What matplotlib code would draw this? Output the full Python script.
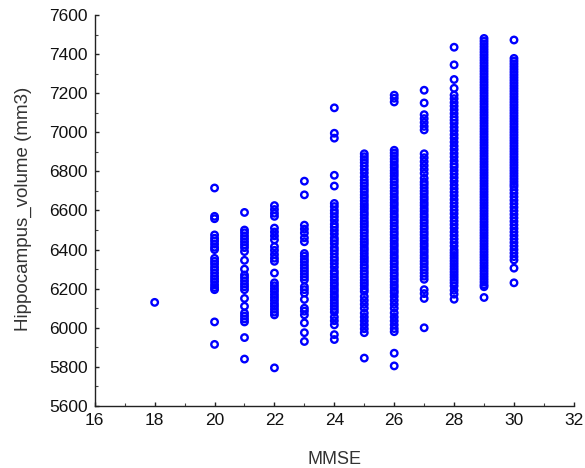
import numpy as np
import matplotlib.pyplot as plt
from matplotlib.ticker import MultipleLocator

# hippocampus volume (mm3) per MMSE score
vol_18 = [6130]
vol_20 = [6715, 6570, 6558, 6475, 6458, 6444, 6428, 6412, 6400, 6355, 6340, 6326,
          6310, 6296, 6280, 6264, 6250, 6236, 6220, 6206, 6195, 6030, 5915]
vol_21 = [6590, 6500, 6486, 6470, 6455, 6440, 6425, 6410, 6390, 6345, 6300, 6270,
          6256, 6240, 6224, 6210, 6195, 6150, 6110, 6075, 6060, 6045, 6030, 5950, 5840]
vol_22 = [6625, 6605, 6586, 6570, 6510, 6490, 6470, 6450, 6415, 6396, 6375, 6356,
          6340, 6280, 6230, 6215, 6200, 6186, 6170, 6155, 6140, 6124, 6110, 6095,
          6080, 6066, 5795]
vol_23 = [6750, 6680, 6525, 6505, 6485, 6460, 6440, 6380, 6366, 6350, 6336, 6320,
          6305, 6290, 6275, 6260, 6245, 6210, 6195, 6178, 6145, 6100, 6085, 6066,
          6025, 5975, 5930]
vol_24 = [7125, 6995, 6970, 6780, 6725,
          6636, 6620, 6600, 6585, 6568, 6550, 6530, 6515, 6498, 6480, 6460, 6446,
          6430, 6410, 6395, 6378, 6360, 6345, 6328, 6310,
          6290, 6276, 6260, 6246, 6230, 6216, 6200, 6186, 6170, 6156, 6140, 6125,
          6110, 6095, 6080, 6055, 6036, 6015, 5965, 5940]
vol_25 = [6890, 6875, 6860, 6845, 6828, 6810, 6792, 6772, 6755,
          6740, 6726, 6710, 6696, 6680, 6666, 6650, 6634, 6620, 6606, 6590, 6576,
          6560, 6544, 6530, 6516, 6500, 6486, 6470, 6454, 6440, 6426, 6410, 6396,
          6380, 6364, 6350, 6336, 6320, 6306, 6290, 6276, 6260, 6244, 6230, 6216,
          6200, 6186, 6160, 6140, 6120, 6100, 6075, 6055, 6035, 6015, 5995, 5975, 5845]
vol_26 = [7190, 7174, 7155,
          6908, 6894, 6880, 6864, 6850, 6834, 6820, 6804, 6790, 6776, 6760, 6746,
          6730, 6716, 6700, 6686, 6670, 6656, 6640, 6626, 6610, 6596, 6580, 6566,
          6550, 6536, 6520, 6506, 6490, 6476, 6460, 6446, 6430, 6416, 6400, 6386,
          6370, 6356, 6340, 6326, 6310, 6296, 6280, 6266, 6250, 6236, 6220, 6206,
          6190, 6178, 6160, 6140, 6120, 6100, 6076, 6055, 6035, 6015, 5996, 5980,
          5870, 5805]
vol_27 = [7215, 7150, 7090, 7070, 7050, 7030, 7012,
          6890, 6870, 6850, 6830, 6810, 6790, 6765,
          6746, 6732, 6716, 6700, 6686, 6670, 6656, 6640, 6626, 6610, 6596, 6580,
          6566, 6550, 6536, 6520, 6506, 6490, 6476, 6460, 6446, 6430, 6416, 6400,
          6386, 6370, 6356, 6340, 6326, 6310, 6296, 6280, 6264, 6248,
          6195, 6175, 6150, 6000]
vol_28 = [7435, 7345, 7270, 7225,
          7190, 7172, 7152, 7134, 7115, 7096, 7078, 7062,
          7046, 7026, 7008, 6988, 6970, 6950, 6930, 6912, 6892, 6874, 6854, 6836,
          6822, 6804, 6786, 6768, 6750, 6730, 6712, 6694, 6676, 6656, 6638, 6620,
          6602, 6584, 6564, 6546, 6528, 6510, 6490, 6472, 6454, 6436, 6418,
          6398, 6384, 6370, 6356, 6342, 6328, 6314, 6300, 6286, 6272, 6258, 6244,
          6230, 6214, 6192, 6172, 6146]
vol_29 = [7480, 7466, 7452, 7438, 7424, 7410, 7396, 7382, 7368, 7354, 7340, 7326,
          7312, 7298, 7284, 7270, 7256, 7242, 7228, 7214, 7200, 7186, 7172, 7158,
          7144, 7130, 7116, 7102, 7088, 7074, 7060, 7046, 7032, 7018, 7004, 6990,
          6976, 6962, 6948, 6934, 6920, 6906, 6892, 6878, 6864, 6850, 6836, 6822,
          6808, 6794, 6780, 6766, 6752, 6738, 6724, 6710, 6696, 6682, 6668, 6654,
          6640, 6626, 6612, 6598, 6584, 6570, 6556, 6542, 6528, 6514, 6500, 6486,
          6472, 6458, 6444, 6430, 6416, 6402, 6388, 6374, 6360, 6346, 6332, 6318,
          6304, 6290, 6276, 6262, 6248, 6234, 6220, 6210, 6155]
vol_30 = [7472,
          7378, 7364, 7350, 7336, 7322, 7308, 7294, 7280, 7266, 7252, 7238, 7224,
          7210, 7196, 7182, 7168, 7154, 7140, 7126, 7112, 7098, 7084, 7070, 7056,
          7042, 7028, 7014, 7000, 6986, 6972, 6958, 6944, 6930, 6916, 6902, 6888,
          6874, 6860, 6846, 6832, 6818, 6804, 6790, 6776, 6762, 6748, 6734, 6722,
          6705, 6688, 6670, 6652, 6634, 6616, 6598, 6580, 6562, 6544, 6526, 6508,
          6490, 6472, 6454, 6436, 6418, 6400, 6382, 6364, 6347, 6305, 6230]

scores = [18, 20, 21, 22, 23, 24, 25, 26, 27, 28, 29, 30]
volumes = [vol_18, vol_20, vol_21, vol_22, vol_23, vol_24, vol_25, vol_26,
           vol_27, vol_28, vol_29, vol_30]

x = np.concatenate([[s] * len(v) for s, v in zip(scores, volumes)])
y = np.concatenate(volumes)

plt.rcParams['font.family'] = ['Liberation Sans', 'DejaVu Sans']

fig = plt.figure(figsize=(5.85, 4.68), dpi=100)
ax = fig.add_axes([0.162, 0.1325, 0.819, 0.8355])

ax.scatter(x, y, s=22, facecolors='none', edgecolors='#0000ff', linewidths=1.7,
           clip_on=False, zorder=3)

ax.set_xlim(16, 32)
ax.set_ylim(5600, 7600)
ax.xaxis.set_major_locator(MultipleLocator(2))
ax.xaxis.set_minor_locator(MultipleLocator(1))
ax.yaxis.set_major_locator(MultipleLocator(200))
ax.yaxis.set_minor_locator(MultipleLocator(100))

for side in ['top', 'right']:
    ax.spines[side].set_visible(False)
for side in ['left', 'bottom']:
    ax.spines[side].set_color('#222222')
    ax.spines[side].set_linewidth(1.0)

ax.tick_params(which='major', direction='in', length=3, width=1, color='#222222',
               labelsize=12.5, labelcolor='#111111', pad=5)
ax.tick_params(which='minor', direction='in', length=2, width=0.8, color='#444444')

ax.set_xlabel('MMSE', fontsize=13, color='#333333')
ax.set_ylabel('Hippocampus_volume (mm3)', fontsize=13.5, color='#333333')
ax.xaxis.set_label_coords(0.5, -0.116)
ax.yaxis.set_label_coords(-0.13, 0.505)

fig.savefig('out.png', dpi=100)
